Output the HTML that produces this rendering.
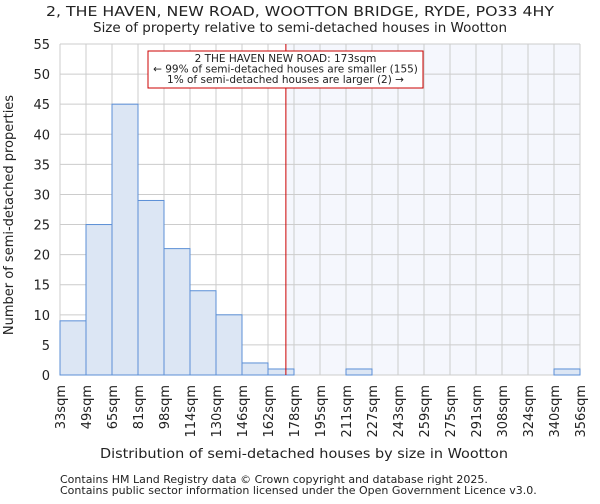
<!DOCTYPE html>
<html><head><meta charset="utf-8"><style>
body{margin:0;background:#fff;font-family:"DejaVu Sans","Liberation Sans",sans-serif}
svg text{font-family:"DejaVu Sans","Liberation Sans",sans-serif;fill:#222}
</style></head><body>
<svg id="chart" width="600" height="500" xmlns="http://www.w3.org/2000/svg">
<text x="300" y="16" text-anchor="middle" font-size="13" textLength="508" lengthAdjust="spacingAndGlyphs">2, THE HAVEN, NEW ROAD, WOOTTON BRIDGE, RYDE, PO33 4HY</text>
<text x="300" y="32" text-anchor="middle" font-size="13" textLength="414" lengthAdjust="spacingAndGlyphs">Size of property relative to semi-detached houses in Wootton</text>
<g id="plot"></g>
<text x="304" y="458" text-anchor="middle" font-size="13" textLength="408" lengthAdjust="spacingAndGlyphs">Distribution of semi-detached houses by size in Wootton</text>
<text transform="translate(13,215) rotate(-90)" text-anchor="middle" font-size="13">Number of semi-detached properties</text>
<text x="60" y="483" font-size="11" fill="#444">Contains HM Land Registry data © Crown copyright and database right 2025.</text>
<text x="60" y="494" font-size="11" fill="#444">Contains public sector information licensed under the Open Government Licence v3.0.</text>
</svg>
<script>
const categories=["33sqm","49sqm","65sqm","81sqm","98sqm","114sqm","130sqm","146sqm","162sqm","178sqm","195sqm","211sqm","227sqm","243sqm","259sqm","275sqm","291sqm","308sqm","324sqm","340sqm","356sqm"];
const counts=[9,25,45,29,21,14,10,2,1,0,0,1,0,0,0,0,0,0,0,1];
const yTicks=[0,5,10,15,20,25,30,35,40,45,50,55];
const binEdges=[33,49,65,81,98,114,130,146,162,178,195,211,227,243,259,275,291,308,324,340,356];
const propertySize=173;
const NS="http://www.w3.org/2000/svg";
const L=60,R=580,T=44,B=375,yMax=55;
const bw=(R-L)/counts.length;
const x=i=>L+i*bw;
const y=v=>B-(v/yMax)*(B-T);
function xv(s){for(let i=0;i<binEdges.length-1;i++){if(s<=binEdges[i+1])return x(i)+(s-binEdges[i])/(binEdges[i+1]-binEdges[i])*bw;}return R;}
const g=document.getElementById('plot');
function mk(t,a){const e=document.createElementNS(NS,t);for(const k in a)e.setAttribute(k,a[k]);g.appendChild(e);return e;}
const px=xv(propertySize);
let sh=mk('rect',{x:px,y:T,width:R-px,height:B-T,fill:'#f5f7fd'});


for(let i=0;i<=counts.length;i++){let l=mk('line',{x1:x(i),x2:x(i),y1:T,y2:B,stroke:'#cccccc','stroke-width':1});

}
yTicks.forEach(v=>{let l=mk('line',{x1:L,x2:R,y1:y(v),y2:y(v),stroke:'#cccccc','stroke-width':1});


let t=mk('text',{x:L-10,y:y(v)+5,'text-anchor':'end','font-size':13});t.textContent=v;

});
counts.forEach((c,i)=>{if(c<=0)return;let r=mk('rect',{x:x(i),y:y(c),width:bw,height:B-y(c),fill:'#dce6f4',stroke:'#5b8fd6','stroke-width':1});

});
categories.forEach((c,i)=>{let t=mk('text',{transform:`translate(${x(i)+5},385) rotate(-90)`,'text-anchor':'end','font-size':13});t.textContent=c;

});
let rl=mk('line',{x1:px,x2:px,y1:T,y2:B,stroke:'#cc0000','stroke-width':1});


let bx=mk('rect',{x:148,y:51,width:275,height:37,fill:'#fff',stroke:'#cc0000','stroke-width':1});


["2 THE HAVEN NEW ROAD: 173sqm","← 99% of semi-detached houses are smaller (155)","1% of semi-detached houses are larger (2) →"].forEach((s,i)=>{let t=mk('text',{x:285.5,y:62+i*10.5,'text-anchor':'middle','font-size':10.5});t.textContent=s;

});
</script>
</body></html>
